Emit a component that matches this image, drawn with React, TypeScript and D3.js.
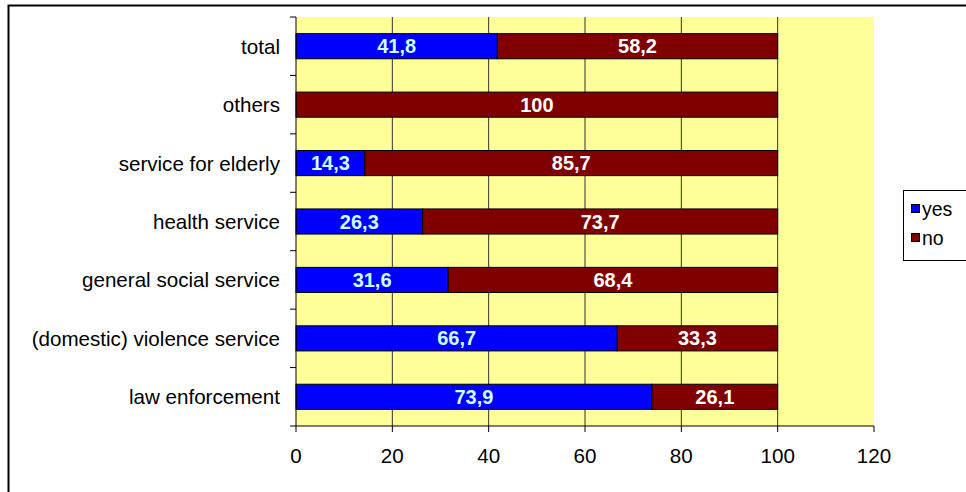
import React from "react";
import * as d3 from "d3";

const categories = [
  "total",
  "others",
  "service for elderly",
  "health service",
  "general social service",
  "(domestic) violence service",
  "law enforcement",
];
const yesValues = [41.8, 0, 14.3, 26.3, 31.6, 66.7, 73.9];
const noValues = [58.2, 100, 85.7, 73.7, 68.4, 33.3, 26.1];
const xTicks = [0, 20, 40, 60, 80, 100, 120];
const seriesNames = ["yes", "no"];

const fmt = (v: number) => String(v).replace(".", ",");

export default function App() {
  const W = 966;
  const H = 492;
  const left = 296;
  const right = 874;
  const top = 17;
  const bottom = 426;
  const x = d3.scaleLinear().domain([0, 120]).range([left, right]);
  const y = d3.scaleBand<string>().domain(categories).range([top, bottom]).padding(0);
  const bw = y.bandwidth();
  const barH = bw * 0.43;
  const font = "'Liberation Sans', Arial, sans-serif";

  return (
    <svg
      width={W}
      height={H}
      style={{ position: "absolute", left: 0, top: 0, background: "#fff" }}
      fontFamily={font}
    >
      {/* outer frame */}
      <rect x={8.5} y={5.5} width={W + 20} height={H + 20} fill="#fff" stroke="#000" strokeWidth={2} />
      {/* plot background */}
      <rect x={left} y={top} width={right - left} height={bottom - top} fill="#FFFF99" />
      {/* grid lines */}
      {xTicks.filter((t) => t > 0 && t < 120).map((t) => (
        <line key={t} x1={x(t)} x2={x(t)} y1={top} y2={bottom} stroke="#333" strokeWidth={1} />
      ))}
      {/* bars */}
      {categories.map((c, i) => {
        const yy = (y(c) as number) + (bw - barH) / 2;
        const yv = yesValues[i];
        const nv = noValues[i];
        return (
          <g key={c}>
            {yv > 0 && (
              <rect x={x(0)} y={yy} width={x(yv) - x(0)} height={barH} fill="#0000FF" stroke="#000" strokeWidth={1} />
            )}
            {nv > 0 && (
              <rect x={x(yv)} y={yy} width={x(yv + nv) - x(yv)} height={barH} fill="#800000" stroke="#000" strokeWidth={1} />
            )}
            {yv > 0 && (
              <text
                x={(x(0) + x(yv)) / 2}
                y={yy + barH / 2 + 7}
                textAnchor="middle"
                fontWeight="bold"
                fontSize={20}
                fill="#CCFFFF"
              >
                {fmt(yv)}
              </text>
            )}
            {nv > 0 && (
              <text
                x={(x(yv) + x(yv + nv)) / 2}
                y={yy + barH / 2 + 7}
                textAnchor="middle"
                fontWeight="bold"
                fontSize={20}
                fill="#FFFFFF"
              >
                {fmt(nv)}
              </text>
            )}
            <text x={280} y={(y(c) as number) + bw / 2 + 7.5} textAnchor="end" fontSize={20.6} fill="#000">
              {c}
            </text>
          </g>
        );
      })}
      {/* category axis */}
      <line x1={left} x2={left} y1={top} y2={bottom} stroke="#000" strokeWidth={1} />
      {categories.map((c) => (
        <line key={c} x1={left - 6} x2={left} y1={y(c) as number} y2={y(c) as number} stroke="#000" />
      ))}
      <line x1={left - 6} x2={left} y1={bottom} y2={bottom} stroke="#000" />
      {/* value axis */}
      <line x1={left} x2={right} y1={bottom} y2={bottom} stroke="#000" strokeWidth={1} />
      {xTicks.map((t) => (
        <g key={t}>
          <line x1={x(t)} x2={x(t)} y1={bottom} y2={bottom + 6} stroke="#000" />
          <text x={x(t)} y={463} textAnchor="middle" fontSize={20.6} fill="#000">
            {t}
          </text>
        </g>
      ))}
      {/* legend */}
      <rect x={903.5} y={190.5} width={80} height={70} fill="#fff" stroke="#000" strokeWidth={1} />
      {seriesNames.map((s, i) => (
        <g key={s}>
          <rect
            x={911.5}
            y={204.5 + i * 29}
            width={8}
            height={8}
            fill={i === 0 ? "#0000FF" : "#800000"}
            stroke="#000"
            strokeWidth={1}
          />
          <text x={922} y={216 + i * 29} fontSize={19.5} fill="#000">
            {s}
          </text>
        </g>
      ))}
    </svg>
  );
}
